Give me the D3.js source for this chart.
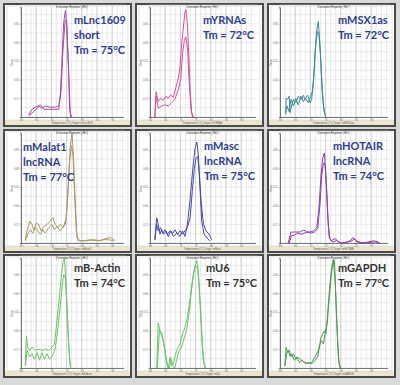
<!DOCTYPE html>
<html><head><meta charset="utf-8">
<script src="https://cdn.jsdelivr.net/npm/d3@7"></script>
<style>body{margin:0;background:#d9d9d9;} svg{display:block}</style>
</head><body>
<script>
// ---- Data ----
const genes = ["mLnc1609","mYRNAs","mMSX1as","mMalat1","mMasc","mHOTAIR","mB-Actin","mU6","mGAPDH"];
const subLabels = ["short","","","lncRNA","lncRNA","lncRNA","","",""];
const tmValues = [75,72,72,77,75,74,74,75,77];
const lineColors = ["#a64aa6","#d0509e","#3b8a96","#a8986a","#4848a8","#8c3fae","#6cc36c","#6cc36c","#4f9a55"];
const labelColors = ["#2c3e8e","#2c3e8e","#2c3e8e","#2c3e8e","#2c3e8e","#2c3e8e","#333333","#333333","#333333"];
const xTicks = [60,65,70,75,80,85,90];
const yTicks = [0.17,0.34,0.51,0.68,0.85];

const lnc1609A = [[62.5,0.02],[63.6,0.07],[64.7,0.09],[65.8,0.10],[66.9,0.08],[68.0,0.10],[69.6,0.09],[71.3,0.09],[72.4,0.10],[72.9,0.19],[73.5,0.52],[74.0,0.85],[74.6,0.97],[75.1,0.82],[75.7,0.40],[76.2,0.04],[76.6,0.0]];
const lnc1609B = [[62.5,0.01],[64.2,0.05],[65.3,0.08],[66.4,0.11],[67.5,0.07],[69.1,0.07],[70.7,0.07],[72.4,0.07],[73.2,0.25],[73.8,0.61],[74.5,0.88],[75.0,0.87],[75.6,0.46],[76.0,0.07],[76.4,0.0]];
const yrnaA = [[61.6,0.0],[62.0,0.23],[62.7,0.14],[63.5,0.17],[64.4,0.15],[65.3,0.19],[66.0,0.17],[66.8,0.20],[67.7,0.18],[68.6,0.28],[69.3,0.35],[69.9,0.46],[70.4,0.67],[71.0,0.82],[71.5,0.96],[71.8,0.98],[72.3,0.85],[72.6,0.67],[73.2,0.25],[73.7,0.04],[74.3,0.0]];
const yrnaB = [[61.6,0.0],[62.0,0.19],[62.7,0.08],[63.8,0.10],[64.9,0.11],[66.0,0.10],[67.1,0.13],[68.2,0.16],[69.3,0.25],[70.1,0.34],[70.7,0.58],[71.3,0.70],[71.8,0.73],[72.4,0.61],[72.9,0.31],[73.5,0.07],[74.0,0.0]];
const msx1A = [[61.9,0.02],[62.0,0.17],[62.5,0.16],[63.0,0.19],[63.3,0.04],[63.8,0.10],[64.4,0.16],[65.2,0.13],[66.0,0.19],[66.9,0.16],[67.7,0.20],[68.2,0.16],[69.1,0.20],[69.9,0.13],[70.4,0.16],[71.0,0.31],[71.5,0.58],[72.1,0.79],[72.6,0.87],[73.2,0.64],[73.7,0.34],[74.3,0.10],[74.8,0.02]];
const msx1B = [[61.9,0.04],[62.3,0.10],[63.0,0.05],[63.6,0.16],[64.4,0.10],[65.2,0.17],[66.0,0.11],[66.9,0.19],[67.7,0.14],[68.4,0.17],[69.3,0.13],[70.1,0.19],[70.6,0.23],[71.2,0.40],[71.7,0.64],[72.3,0.78],[72.8,0.76],[73.4,0.52],[73.9,0.22],[74.5,0.05],[75.0,0.0]];
const malatA = [[61.4,0.03],[62.0,0.11],[62.9,0.20],[63.6,0.17],[64.2,0.12],[65.0,0.18],[65.8,0.17],[66.6,0.11],[67.5,0.15],[68.6,0.17],[69.6,0.20],[70.5,0.23],[71.3,0.17],[72.1,0.14],[72.9,0.17],[73.8,0.14],[74.6,0.17],[75.1,0.32],[75.7,0.62],[76.2,0.89],[76.8,1.0],[77.3,0.77],[77.9,0.32],[78.4,0.05],[79.5,0.02],[81.7,0.02],[83.9,0.03],[86.1,0.02],[87.7,0.04],[89.4,0.05],[91.0,0.02]];
const malatB = [[61.4,0.02],[62.2,0.08],[63.1,0.12],[63.9,0.09],[64.7,0.14],[65.5,0.11],[66.4,0.08],[67.2,0.12],[68.0,0.09],[69.1,0.14],[70.2,0.17],[71.0,0.12],[71.8,0.15],[72.9,0.11],[74.0,0.15],[74.9,0.23],[75.5,0.47],[76.0,0.74],[76.6,0.89],[77.1,0.80],[77.7,0.41],[78.2,0.11],[78.8,0.02],[80.6,0.02],[82.8,0.03],[85.0,0.02],[87.2,0.03],[88.8,0.03],[90.5,0.02]];
const mascA = [[61.6,0.03],[62.2,0.23],[62.7,0.17],[63.3,0.08],[63.8,0.12],[64.4,0.08],[65.3,0.11],[66.0,0.06],[66.8,0.11],[67.7,0.06],[68.8,0.09],[69.9,0.06],[70.7,0.11],[71.5,0.06],[72.3,0.17],[72.9,0.32],[73.7,0.56],[74.3,0.74],[74.8,0.86],[75.4,0.92],[75.9,0.80],[76.5,0.47],[77.0,0.20],[77.8,0.08],[78.6,0.05],[79.7,0.02]];
const mascB = [[61.6,0.03],[62.2,0.17],[62.7,0.11],[63.5,0.14],[64.2,0.09],[64.9,0.12],[65.7,0.08],[66.6,0.11],[67.5,0.09],[68.2,0.12],[69.0,0.08],[69.9,0.11],[70.7,0.08],[71.5,0.11],[72.3,0.14],[73.2,0.23],[73.9,0.47],[74.6,0.68],[75.1,0.77],[75.7,0.79],[76.2,0.65],[76.8,0.38],[77.6,0.17],[78.5,0.11],[79.4,0.08],[80.3,0.03]];
const hotairA = [[62.7,0.0],[63.6,0.10],[64.4,0.10],[65.5,0.10],[66.6,0.10],[67.7,0.12],[68.8,0.10],[69.9,0.10],[71.0,0.11],[72.1,0.14],[72.8,0.31],[73.5,0.62],[74.0,0.77],[74.6,0.82],[75.1,0.62],[75.7,0.25],[76.2,0.05],[76.8,0.02],[78.1,0.04],[79.0,0.02],[79.7,0.0],[81.4,0.0],[83.0,0.02],[84.1,0.05],[84.9,0.02],[86.9,0.0],[89.1,0.01],[90.7,0.02],[92.3,0.01]];
const hotairB = [[63.0,0.0],[63.8,0.07],[64.7,0.07],[65.8,0.09],[66.9,0.08],[68.0,0.09],[69.1,0.10],[70.2,0.09],[71.3,0.10],[72.4,0.13],[73.2,0.37],[73.7,0.61],[74.3,0.73],[74.8,0.72],[75.4,0.46],[75.9,0.16],[76.4,0.04],[77.2,0.01],[78.6,0.02],[80.2,0.0],[82.4,0.01],[83.7,0.02],[84.5,0.04],[85.2,0.01],[88.0,0.0],[91.3,0.01],[92.9,0.0]];
const actinA = [[61.4,0.02],[61.8,0.29],[62.2,0.19],[62.9,0.16],[63.6,0.19],[64.7,0.16],[65.8,0.17],[66.9,0.16],[68.0,0.17],[69.1,0.16],[70.2,0.19],[71.0,0.22],[71.6,0.37],[72.4,0.58],[73.2,0.82],[73.8,0.96],[74.3,1.0],[74.9,0.70],[75.5,0.31],[76.0,0.07],[76.4,0.0]];
const actinB = [[61.4,0.02],[62.0,0.16],[62.9,0.10],[63.6,0.13],[64.4,0.08],[65.3,0.14],[66.1,0.07],[66.9,0.14],[67.7,0.08],[68.6,0.13],[69.4,0.08],[70.3,0.11],[71.1,0.16],[71.8,0.28],[72.6,0.49],[73.4,0.70],[74.0,0.85],[74.6,0.82],[75.1,0.58],[75.7,0.22],[76.2,0.02]];
const u6A = [[62.2,0.0],[62.7,0.41],[63.3,0.34],[63.8,0.32],[64.4,0.25],[64.9,0.16],[65.5,0.04],[66.0,0.0],[66.6,0.10],[67.1,0.02],[67.7,0.04],[68.2,0.10],[68.8,0.16],[69.3,0.19],[69.9,0.22],[70.7,0.31],[71.5,0.37],[72.3,0.46],[73.2,0.64],[73.9,0.79],[74.6,0.91],[75.4,0.98],[75.9,0.88],[76.4,0.61],[77.0,0.31],[77.5,0.07],[78.1,0.0]];
const u6B = [[62.4,0.0],[63.1,0.35],[63.7,0.31],[64.2,0.26],[64.7,0.19],[65.3,0.10],[65.8,0.02],[66.4,0.0],[67.0,0.08],[67.5,0.02],[68.1,0.0],[68.6,0.05],[69.2,0.13],[69.7,0.16],[70.5,0.20],[71.3,0.28],[72.0,0.34],[72.8,0.49],[73.5,0.67],[74.3,0.85],[74.9,0.93],[75.6,0.92],[76.1,0.79],[76.7,0.52],[77.2,0.22],[77.8,0.04],[78.3,0.0]];
const gapdhA = [[61.6,0.02],[62.0,0.19],[62.5,0.14],[63.1,0.16],[63.6,0.10],[64.4,0.13],[65.2,0.08],[66.0,0.10],[67.1,0.07],[68.2,0.05],[69.3,0.04],[70.4,0.05],[71.5,0.10],[72.6,0.16],[73.2,0.22],[73.7,0.25],[74.3,0.22],[74.8,0.31],[75.4,0.40],[75.9,0.58],[76.4,0.76],[77.0,0.91],[77.5,0.99],[78.1,0.82],[78.6,0.46],[79.2,0.10],[79.7,0.0]];
const gapdhB = [[61.6,0.02],[62.2,0.13],[62.7,0.16],[63.3,0.11],[63.8,0.13],[64.7,0.07],[65.5,0.10],[66.4,0.05],[67.3,0.07],[68.4,0.04],[69.5,0.05],[70.6,0.04],[71.5,0.07],[72.4,0.10],[73.0,0.20],[73.5,0.28],[74.0,0.31],[74.6,0.34],[75.1,0.31],[75.7,0.46],[76.2,0.64],[76.8,0.82],[77.3,0.95],[77.9,0.98],[78.3,0.70],[78.9,0.28],[79.4,0.04],[80.0,0.0]];

const curves = [[lnc1609A,lnc1609B],[yrnaA,yrnaB],[msx1A,msx1B],[malatA,malatB],[mascA,mascB],[hotairA,hotairB],[actinA,actinB],[u6A,u6B],[gapdhA,gapdhB]];

// ---- Layout ----
const W = 400, H = 385;
const colX = [4,136,268], rowY = [4,130,255];
const pw = 127, ph = 122;
const plotLeft = [17,14,12];
const pxPerDeg = 3.04;
const labelPos = [[70,20],[67,20],[70,20],[19,21],[68,20],[65,20],[70,17],[70,17],[70,17]];

const svg = d3.select("body").append("svg").attr("width",W).attr("height",H);
svg.append("rect").attr("width",W).attr("height",H).attr("fill","#d9d9d9");

genes.forEach((g,i)=>{
  const col = i%3, row = Math.floor(i/3);
  const gp = svg.append("g").attr("transform",`translate(${colX[col]},${rowY[row]})`);
  gp.append("rect").attr("x",0).attr("y",0).attr("width",pw).attr("height",ph)
    .attr("fill","#fff").attr("stroke","#4a4a4a").attr("stroke-width",2);
  gp.append("rect").attr("x",1).attr("y",ph-6).attr("width",pw-2).attr("height",5).attr("fill","#ece6cf");
  gp.append("rect").attr("x",3).attr("y",2).attr("width",pw-6).attr("height",ph-8)
    .attr("fill","none").attr("stroke","#cfcfcf").attr("stroke-width",0.6);

  const L = plotLeft[col], R = pw-8, T = 3.3, B = 113;
  const x = d3.scaleLinear().domain([60, 60+(R-L)/pxPerDeg]).range([L,R]);
  const y = d3.scaleLinear().domain([0,1]).range([B,T]);

  // minor grid
  const xMinor = d3.range(60, x.domain()[1], 5/3);
  gp.append("g").selectAll("line").data(xMinor).join("line")
    .attr("x1",d=>x(d)).attr("x2",d=>x(d)).attr("y1",T-1).attr("y2",B)
    .attr("stroke","#dadada").attr("stroke-width",0.6);
  const yMinor = d3.range(0, 1.05, 0.085);
  gp.append("g").selectAll("line").data(yMinor).join("line")
    .attr("x1",L).attr("x2",R+3).attr("y1",d=>y(d)).attr("y2",d=>y(d))
    .attr("stroke","#dadada").attr("stroke-width",0.6);
  // major grid
  gp.append("g").selectAll("line").data(xTicks).join("line")
    .attr("x1",d=>x(d)).attr("x2",d=>x(d)).attr("y1",T-1).attr("y2",B)
    .attr("stroke","#c4c4c4").attr("stroke-width",0.7);

  // axes
  const xa = gp.append("g").attr("transform",`translate(0,${B})`)
    .call(d3.axisBottom(x).tickValues(xTicks).tickSize(1.2).tickPadding(0.5).tickFormat(d3.format("d")));
  const ya = gp.append("g").attr("transform",`translate(${L},0)`)
    .call(d3.axisLeft(y).tickValues(yTicks).tickSize(1.2).tickPadding(0.8).tickFormat(d3.format(".2f")));
  [xa,ya].forEach(a=>{
    a.select(".domain").attr("stroke","#555").attr("stroke-width",0.8);
    a.selectAll(".tick line").attr("stroke","#777").attr("stroke-width",0.5);
    a.selectAll("text").attr("font-size",2.6).attr("fill","#666").attr("font-family","Liberation Sans");
  });

  // small titles
  gp.append("text").attr("x",(L+R)/2).attr("y",T+0.6).attr("text-anchor","middle")
    .attr("font-size",2.8).attr("font-family","Liberation Sans").attr("fill","#222").text("Derivative Reporter (-Rn')");
  gp.append("text").attr("x",(L+R)/2).attr("y",ph-2.4).attr("text-anchor","middle")
    .attr("font-size",2.6).attr("font-family","Liberation Sans").attr("fill","#555").text("Temperature (°C)  Target: " + g);
  gp.append("text").attr("transform",`translate(${L-8.5},${(T+B)/2}) rotate(-90)`).attr("text-anchor","middle")
    .attr("font-size",2.6).attr("font-family","Liberation Sans").attr("fill","#444").text("Deriv.");

  // curves
  const line = d3.line().x(d=>x(d[0])).y(d=>y(d[1]));
  gp.append("g").selectAll("path").data(curves[i]).join("path")
    .attr("d",line).attr("fill","none").attr("stroke",lineColors[i]).attr("stroke-width",1)
    .attr("stroke-linejoin","round");

  // label
  const lines = [g]; if (subLabels[i]) lines.push(subLabels[i]); lines.push(`Tm = ${tmValues[i]}°C`);
  const t = gp.append("text").attr("x",labelPos[i][0]).attr("y",labelPos[i][1])
    .attr("font-family","Lato").attr("font-weight",700).attr("font-size",11).attr("fill",labelColors[i]);
  lines.forEach((s,k)=>t.append("tspan").attr("x",labelPos[i][0]).attr("dy",k?15:0).text(s));
});
</script>
</body></html>
